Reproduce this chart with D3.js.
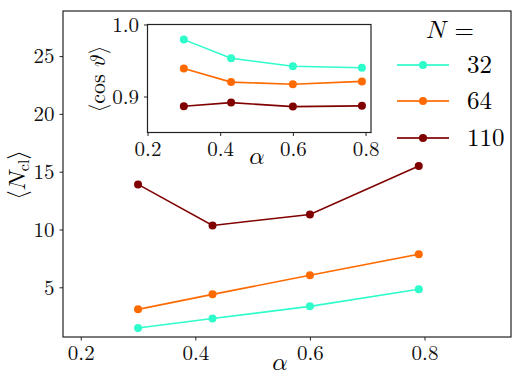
<!DOCTYPE html>
<html><head><meta charset="utf-8">
<script src="https://cdn.jsdelivr.net/npm/d3@7"></script>
<style>
body{margin:0;background:#fff;}
</style></head>
<body><svg id="c" width="520" height="385"></svg>
<script>
const alphas = [0.3, 0.43, 0.6, 0.79];
const seriesN = ["32", "64", "110"];
const colors = ["#2ffccb", "#ff6a00", "#800000"];
const ncl32 = [1.48, 2.3, 3.35, 4.83];
const ncl64 = [3.09, 4.39, 6.04, 7.86];
const ncl110 = [13.9, 10.35, 11.3, 15.5];
const cos32 = [0.979, 0.953, 0.942, 0.940];
const cos64 = [0.939, 0.920, 0.917, 0.921];
const cos110 = [0.8865, 0.8915, 0.886, 0.887];
const mainXTicks = [0.2, 0.4, 0.6, 0.8];
const mainYTicks = [5, 10, 15, 20, 25];
const insetXTicks = [0.2, 0.4, 0.6, 0.8];
const insetYTicks = [0.9, 1.0];

const FONT = '"Latin Modern Math", "Latin Modern Roman", serif';
const svg = d3.select("#c");
const main = {l:63, r:511, t:11, b:337};
const x = d3.scaleLinear().domain([0.169, 0.951]).range([main.l, main.r]);
const y = d3.scaleLinear().domain([0.7, 28.9]).range([main.b, main.t]);

function drawAxes(g, xs, ys, xt, yt, box, fs, xfmt, yfmt){
  g.append("rect").attr("x",box.l).attr("y",box.t).attr("width",box.r-box.l).attr("height",box.b-box.t)
   .attr("fill","none").attr("stroke","#222").attr("stroke-width",1.2);
  const ax = g.append("g").attr("transform",`translate(0,${box.b})`)
    .call(d3.axisBottom(xs).tickValues(xt).tickSize(3.5).tickPadding(5).tickFormat(xfmt));
  const ay = g.append("g").attr("transform",`translate(${box.l},0)`)
    .call(d3.axisLeft(ys).tickValues(yt).tickSize(3.5).tickPadding(5).tickFormat(yfmt));
  [ax,ay].forEach(a=>{
    a.attr("font-family",null).attr("font-size",null);
    a.select(".domain").remove();
    a.selectAll("line").attr("stroke","#222").attr("stroke-width",1);
    a.selectAll("text").style("font-size",fs+"px").attr("fill","#111");
  });
}

function drawSeries(g, xs, ys, vals, col, r){
  const line = d3.line().x((d,i)=>xs(alphas[i])).y(d=>ys(d));
  g.append("path").datum(vals).attr("d",line).attr("fill","none").attr("stroke",col).attr("stroke-width",1.6);
  g.selectAll(null).data(vals).enter().append("circle")
    .attr("cx",(d,i)=>xs(alphas[i])).attr("cy",d=>ys(d)).attr("r",r).attr("fill",col);
}

const gm = svg.append("g");
drawAxes(gm, x, y, mainXTicks, mainYTicks, main, 21, d3.format(".1f"), d3.format("d"));
[ncl32, ncl64, ncl110].forEach((v,i)=>drawSeries(gm, x, y, v, colors[i], 4));

// main labels
gm.append("text").attr("x",280).attr("y",370).attr("text-anchor","middle")
  .style("font-size","24px").text("𝛼");
const yl = gm.append("text").attr("transform","translate(25,175) rotate(-90)").attr("text-anchor","middle")
  .style("font-size","24px");
yl.append("tspan").text("⟨𝑁");
yl.append("tspan").attr("dy",4).style("font-size","16px").text("cl");
yl.append("tspan").attr("dy",-4).text("⟩");

// inset
const ins = {l:147.5, r:371, t:24.5, b:132.5};
const xi = d3.scaleLinear().domain([0.2, 0.815]).range([ins.l, ins.r]);
const yi = d3.scaleLinear().domain([0.85, 1.0]).range([ins.b, ins.t]);
const gi = svg.append("g");
gi.append("rect").attr("x",ins.l).attr("y",ins.t).attr("width",ins.r-ins.l).attr("height",ins.b-ins.t).attr("fill","#fff");
drawAxes(gi, xi, yi, insetXTicks, insetYTicks, ins, 21, d3.format(".1f"), d3.format(".1f"));
[cos32, cos64, cos110].forEach((v,i)=>drawSeries(gi, xi, yi, v, colors[i], 4));
gi.append("text").attr("x",257).attr("y",164).attr("text-anchor","middle")
  .style("font-size","24px").text("𝛼");
gi.append("text").attr("transform","translate(105,79) rotate(-90)").attr("text-anchor","middle")
  .style("font-size","22px").text("⟨cos 𝜗⟩");

// legend
const lg = svg.append("g");
lg.append("text").attr("x",450).attr("y",38).attr("text-anchor","middle").style("font-size","25px").text("𝑁 =");
const legY = [65, 101, 138];
seriesN.forEach((n,i)=>{
  lg.append("line").attr("x1",397).attr("x2",449).attr("y1",legY[i]).attr("y2",legY[i])
    .attr("stroke",colors[i]).attr("stroke-width",2).attr("stroke-opacity",0.85);
  lg.append("circle").attr("cx",423).attr("cy",legY[i]).attr("r",4).attr("fill",colors[i]);
  lg.append("text").attr("x",467).attr("y",legY[i]+8).style("font-size","25px").text(n);
});

svg.selectAll("text").style("font-family", FONT);
</script></body></html>
